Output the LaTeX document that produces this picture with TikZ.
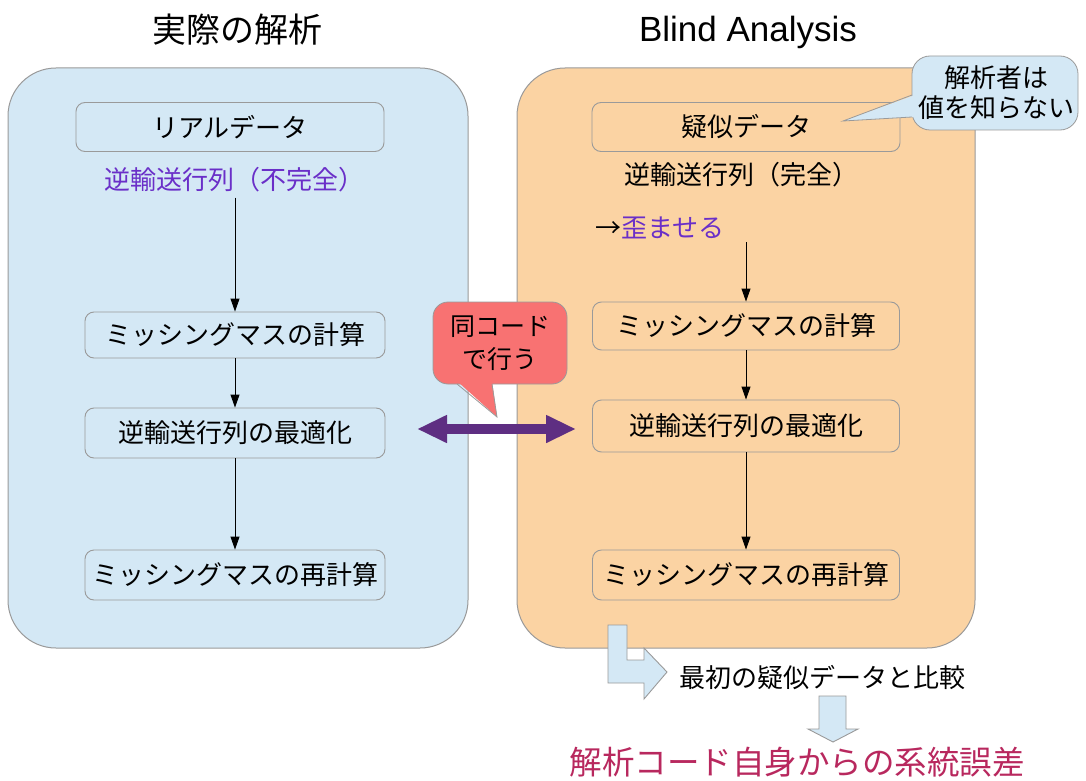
\documentclass[tikz,border=0pt]{standalone}
\usepackage{fontspec}
\setmainfont{Noto Sans CJK JP}
\newfontfamily\latfont{Liberation Sans}
\usetikzlibrary{arrows.meta}
\definecolor{panelblue}{HTML}{D4E8F5}
\definecolor{panelorange}{HTML}{FBD3A3}
\definecolor{edgegray}{HTML}{9A9A9A}
\definecolor{calloutred}{HTML}{F87272}
\definecolor{arrowpurple}{HTML}{5E2E82}
\definecolor{textpurple}{HTML}{6A2FC8}
\definecolor{errred}{HTML}{B8285E}
\begin{document}
\begin{tikzpicture}[x=1pt,y=-1pt,
  panel/.style={draw=edgegray, line width=1pt, rounded corners=48pt},
  stepbox/.style={draw=edgegray, line width=0.9pt, rounded corners=9pt, minimum width=300pt, minimum height=48pt, font=\fontsize{26}{30}\selectfont, inner sep=0pt},
  lbl/.style={font=\fontsize{26}{30}\selectfont, inner sep=0pt},
  flow/.style={-{Triangle[length=13pt,width=9pt]}, line width=0.9pt},
  blockarrow/.style={fill=panelblue, draw=edgegray, line width=0.9pt},
]
\useasboundingbox (0,0) rectangle (1086,781);
% panels
\draw[panel, fill=panelblue] (8,68) rectangle (468,648);
\draw[panel, fill=panelorange] (517,68) rectangle (975,648);
% titles
\node[font=\fontsize{34}{38}\selectfont] (ltitle) at (237,30) {実際の解析};
\node[font=\latfont\fontsize{35}{40}\selectfont] (rtitle) at (748,32) {Blind Analysis};
% left column
\node[stepbox, minimum width=308pt, minimum height=49pt] (lreal) at (230,127) {リアルデータ};
\node[lbl, text=textpurple] (linv) at (234,180) {逆輸送行列（不完全）};
\node[stepbox, minimum height=46pt] (lmiss) at (235,335) {ミッシングマスの計算};
\node[stepbox, minimum height=50pt] (lopt) at (235,433) {逆輸送行列の最適化};
\node[stepbox, minimum height=50pt] (lre) at (235,575) {ミッシングマスの再計算};
\draw[flow, shorten <=5pt] (lmiss.north |- linv.south) -- (lmiss.north);
\draw[flow] (lmiss) -- (lopt);
\draw[flow] (lopt) -- (lre);
% right column
\node[stepbox, minimum width=308pt, minimum height=49pt] (rfake) at (746,127) {疑似データ};
\node[lbl] (rinv) at (741,175) {逆輸送行列（完全）};
\node[lbl] (rdist) at (660,228) {→\textcolor{textpurple}{歪ませる}};
\node[stepbox, minimum width=307pt, minimum height=48pt] (rmiss) at (746,326) {ミッシングマスの計算};
\node[stepbox, minimum width=307pt, minimum height=52pt] (ropt) at (746,426) {逆輸送行列の最適化};
\node[stepbox, minimum width=307pt, minimum height=50pt] (rre) at (746,575) {ミッシングマスの再計算};
\draw[flow, shorten <=3pt] (rmiss.north |- rdist.south) -- (rmiss.north);
\draw[flow] (rmiss) -- (ropt);
\draw[flow] (ropt) -- (rre);
% double arrow between the optimisations
\coordinate (dl) at (417,429);
\coordinate (dr) at (576,429);
\draw[arrowpurple, line width=9.5pt, {Triangle[length=30pt,width=26pt]}-{Triangle[length=30pt,width=26pt]}] (dl) -- (dr);
% red callout
\draw[fill=calloutred, draw=edgegray, line width=0.8pt, rounded corners=15pt] (433,302) rectangle (567,384);
\fill[calloutred] (457,381) -- (497,417) -- (492,381) -- cycle;
\draw[edgegray, line width=0.8pt] (457,384) -- (497,417) -- (492,384);
\node[lbl, align=center, font=\fontsize{25}{33}\selectfont] (same) at (500,343) {同コード\\で行う};
% blue callout
\draw[fill=panelblue, draw=edgegray, line width=0.8pt, rounded corners=18pt] (912,56) rectangle (1078,130);
\fill[panelblue] (915,95) -- (843,121) -- (915,117) -- cycle;
\draw[edgegray, line width=0.8pt] (912,95) -- (843,121) -- (912,117);
\node[lbl, align=center, font=\fontsize{26}{30}\selectfont] (blind) at (996,93) {解析者は\\値を知らない};
% bottom: comparison and result
\draw[blockarrow] (608,625) -- (627,625) -- (627,660) -- (644,660) -- (644,648) -- (667,672) -- (644,699) -- (644,683) -- (608,683) -- cycle;
\node[lbl] (cmp) at (822,678) {最初の疑似データと比較};
\draw[blockarrow] (819,696) -- (846,696) -- (846,729) -- (858,729) -- (833,742) -- (808,729) -- (819,729) -- cycle;
\node[lbl, font=\fontsize{32.5}{36}\selectfont, text=errred] (err) at (797,762) {解析コード自身からの系統誤差};
\end{tikzpicture}
\end{document}
